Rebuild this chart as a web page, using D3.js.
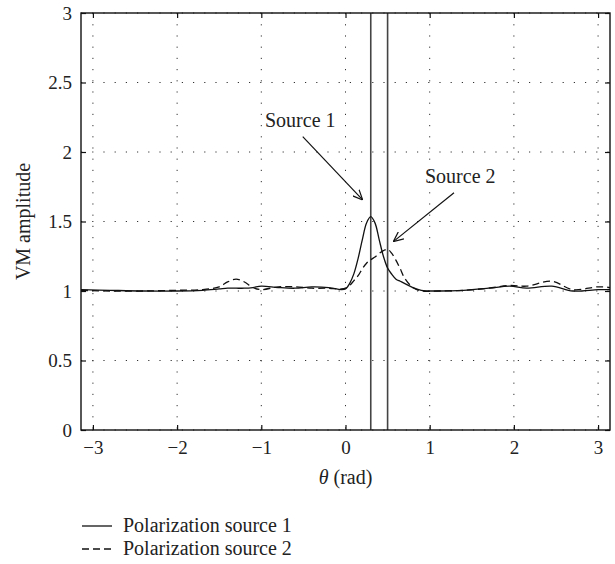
<!DOCTYPE html>
<html>
<head>
<meta charset="utf-8">
<script src="https://cdn.jsdelivr.net/npm/d3@7"></script>
<style>
body { margin: 0; background: #fff; }
svg { display: block; font-family: "Liberation Serif", "DejaVu Serif", serif; }
</style>
</head>
<body>
<svg id="chart" width="615" height="564"></svg>
<script>
// angle grid (rad) shared by both series
var theta = [-3.1416, -2.8, -2.4, -2.0, -1.7, -1.5, -1.4, -1.3, -1.2, -1.1, -1.0, -0.8, -0.6, -0.4, -0.2, -0.05,
  0.0, 0.05, 0.1, 0.15, 0.2, 0.25, 0.3, 0.35, 0.4, 0.45, 0.5, 0.55, 0.6, 0.65, 0.7, 0.8, 0.9,
  1.1, 1.4, 1.7, 1.95, 2.15, 2.45, 2.7, 3.0, 3.1416];
var source1 = [1.01, 1.005, 1.0, 1.0, 1.005, 1.015, 1.02, 1.02, 1.02, 1.025, 1.035, 1.025, 1.02, 1.03, 1.025, 1.01,
  1.015, 1.055, 1.125, 1.235, 1.37, 1.49, 1.535, 1.49, 1.37, 1.25, 1.165, 1.12, 1.085, 1.07, 1.055, 1.025, 1.005,
  1.0, 1.005, 1.02, 1.035, 1.02, 1.035, 1.0, 1.01, 1.01];
var source2 = [1.005, 1.0, 1.0, 1.005, 1.01, 1.03, 1.065, 1.085, 1.065, 1.025, 1.01, 1.03, 1.03, 1.02, 1.02, 1.015,
  1.02, 1.04, 1.075, 1.11, 1.16, 1.2, 1.225, 1.245, 1.27, 1.29, 1.3, 1.27, 1.22, 1.16, 1.095, 1.025, 1.0,
  1.0, 1.005, 1.02, 1.04, 1.035, 1.07, 1.01, 1.03, 1.025];

var xTicks = [-3, -2, -1, 0, 1, 2, 3];
var yTicks = [0, 0.5, 1, 1.5, 2, 2.5, 3];
var sourceAngles = [0.3, 0.5];

var labelText = ["Source 1", "Source 2"];
var labelPos = [[-0.956, 2.18], [0.944, 1.775]];
var arrowFrom = [[-0.508, 2.11], [1.289, 1.707]];
var arrowTo = [[0.204, 1.655], [0.568, 1.355]];

var legendNames = ["Polarization source 1", "Polarization source 2"];

var margin = {top: 13, right: 5, bottom: 134, left: 81};
var width = 615 - margin.left - margin.right,
	height = 564 - margin.top - margin.bottom;

var svg = d3.select("#chart");

svg.append("defs").append("marker")
	.attr("id", "arrow")
	.attr("viewBox", "0 0 10 10")
	.attr("refX", 10).attr("refY", 5)
	.attr("markerWidth", 10).attr("markerHeight", 10)
	.attr("markerUnits", "userSpaceOnUse")
	.attr("orient", "auto")
	.append("path")
	.attr("d", "M0,0.5 L10,5 L0,9.5")
	.attr("fill", "none")
	.attr("stroke", "#111")
	.attr("stroke-width", 1.2);

var g = svg.append("g")
	.attr("transform", "translate(" + margin.left + "," + margin.top + ")");

var x = d3.scaleLinear().domain([-Math.PI, Math.PI]).range([0, width]);
var y = d3.scaleLinear().domain([0, 3]).range([height, 0]);

// dotted grid
g.selectAll(".gx").data(xTicks).enter().append("line")
	.attr("x1", x).attr("x2", x).attr("y1", 0).attr("y2", height)
	.attr("stroke", "#333").attr("stroke-dasharray", "1.2,10");
g.selectAll(".gy").data(yTicks).enter().append("line")
	.attr("y1", y).attr("y2", y).attr("x1", 0).attr("x2", width)
	.attr("stroke", "#333").attr("stroke-dasharray", "1.2,10");

var fmt = d3.format("~g");

var axBottom = g.append("g").attr("transform", "translate(0," + height + ")")
	.call(d3.axisBottom(x).tickValues(xTicks).tickFormat(fmt).tickSizeInner(-5).tickSizeOuter(0).tickPadding(11));
var axLeft = g.append("g")
	.call(d3.axisLeft(y).tickValues(yTicks).tickFormat(fmt).tickSizeInner(-5).tickSizeOuter(0).tickPadding(9));
var axTop = g.append("g")
	.call(d3.axisTop(x).tickValues(xTicks).tickFormat("").tickSizeInner(-5).tickSizeOuter(0));
var axRight = g.append("g").attr("transform", "translate(" + width + ",0)")
	.call(d3.axisRight(y).tickValues(yTicks).tickFormat("").tickSizeInner(-5).tickSizeOuter(0));

[axBottom, axLeft, axTop, axRight].forEach(function(a) {
	a.select(".domain").remove();
	a.selectAll(".tick line").attr("stroke", "#111").attr("stroke-width", 1.2);
	a.selectAll("text").attr("font-size", 19).attr("font-family", "Liberation Serif").attr("fill", "#222");
});

// vertical lines at the source directions
g.selectAll(".src").data(sourceAngles).enter().append("line")
	.attr("x1", x).attr("x2", x).attr("y1", 0).attr("y2", height)
	.attr("stroke", "#444").attr("stroke-width", 1.6);

var line1 = d3.line()
	.x(function(d, i) { return x(theta[i]); })
	.y(function(d) { return y(d); })
	.curve(d3.curveCatmullRom.alpha(0.5));

g.append("path").datum(source2)
	.attr("d", line1).attr("fill", "none")
	.attr("stroke", "#111").attr("stroke-width", 1.3).attr("stroke-dasharray", "7,4");
g.append("path").datum(source1)
	.attr("d", line1).attr("fill", "none")
	.attr("stroke", "#111").attr("stroke-width", 1.3);

// frame
g.append("rect").attr("width", width).attr("height", height)
	.attr("fill", "none").attr("stroke", "#111").attr("stroke-width", 1.4);

// annotations
g.selectAll(".ann").data(labelText).enter().append("text")
	.attr("x", function(d, i) { return x(labelPos[i][0]); })
	.attr("y", function(d, i) { return y(labelPos[i][1]); })
	.attr("font-size", 20).attr("fill", "#222")
	.text(function(d) { return d; });
g.selectAll(".arr").data(arrowFrom).enter().append("line")
	.attr("x1", function(d) { return x(d[0]); })
	.attr("y1", function(d) { return y(d[1]); })
	.attr("x2", function(d, i) { return x(arrowTo[i][0]); })
	.attr("y2", function(d, i) { return y(arrowTo[i][1]); })
	.attr("stroke", "#111").attr("stroke-width", 1.2)
	.attr("marker-end", "url(#arrow)");

// axis titles
var xt = svg.append("text")
	.attr("x", margin.left + width / 2).attr("y", 484)
	.attr("text-anchor", "middle").attr("font-size", 20).attr("fill", "#222");
xt.append("tspan").attr("font-style", "italic").text("θ");
xt.append("tspan").text(" (rad)");

svg.append("text")
	.attr("transform", "translate(30," + (margin.top + height / 2) + ") rotate(-90)")
	.attr("text-anchor", "middle").attr("font-size", 20).attr("fill", "#222")
	.text("VM amplitude");

// legend
var leg = svg.selectAll(".leg").data(legendNames).enter().append("g")
	.attr("transform", function(d, i) { return "translate(82," + (532 + i * 23) + ")"; });
leg.append("line")
	.attr("x1", 0).attr("x2", 30).attr("y1", -6).attr("y2", -6)
	.attr("stroke", "#111").attr("stroke-width", 1.3)
	.attr("stroke-dasharray", function(d, i) { return i ? "7,4" : null; });
leg.append("text")
	.attr("x", 41).attr("font-size", 20).attr("fill", "#222")
	.text(function(d) { return d; });
</script>
</body>
</html>
